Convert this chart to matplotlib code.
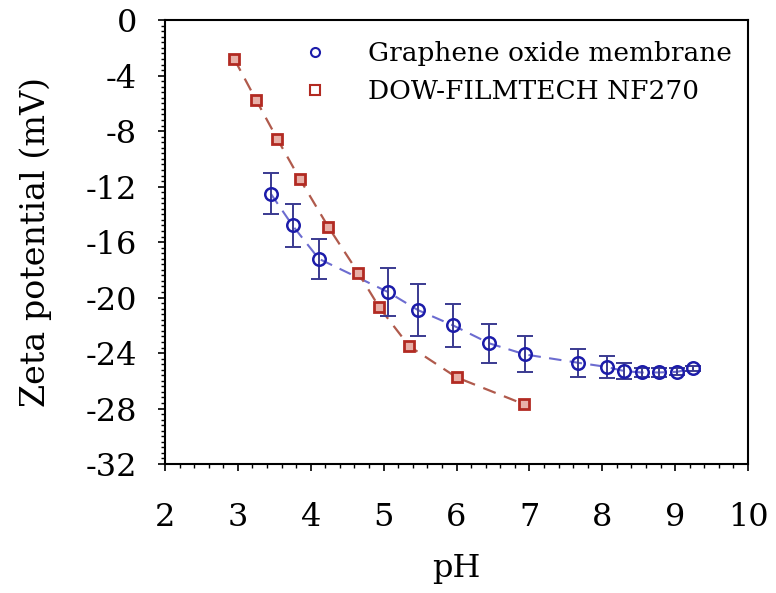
import matplotlib
matplotlib.use("Agg")
import matplotlib.pyplot as plt
from matplotlib.ticker import MultipleLocator
import numpy as np

plt.rcParams['font.family'] = ['DejaVu Serif']
plt.rcParams['axes.unicode_minus'] = False

# graphene oxide membrane
go_ph = [3.45, 3.75, 4.11, 5.06, 5.47, 5.95, 6.45, 6.94, 7.67, 8.06, 8.30, 8.54, 8.78, 9.03, 9.25]
go_zeta = [-12.5, -14.8, -17.2, -19.6, -20.9, -22.0, -23.3, -24.1, -24.7, -25.0, -25.3, -25.4, -25.4, -25.35, -25.1]
go_err = [1.5, 1.55, 1.45, 1.75, 1.9, 1.55, 1.4, 1.3, 1.0, 0.8, 0.55, 0.35, 0.3, 0.25, 0.2]

# DOW-FILMTECH NF270
nf_ph = [2.95, 3.25, 3.54, 3.85, 4.24, 4.65, 4.94, 5.35, 6.00, 6.93]
nf_zeta = [-2.8, -5.75, -8.55, -11.45, -14.9, -18.2, -20.7, -23.5, -25.75, -27.7]

fig = plt.figure(figsize=(7.76, 5.93), dpi=100)
ax = fig.add_axes([0.2126, 0.2175, 0.7514, 0.7485])

blue = '#1c1caa'
red = '#b22a22'

ax.plot(go_ph, go_zeta, '--', color='#6c6cd0', lw=1.5, dashes=(6, 4), zorder=1)
ax.errorbar(go_ph, go_zeta, yerr=go_err, fmt='none', ecolor='#3a3a90', elinewidth=1.4,
            capsize=6, capthick=1.4, zorder=2)
ax.plot(go_ph, go_zeta, 'o', mfc='none', mec=blue, mew=1.8, ms=9, zorder=3)

ax.plot(nf_ph, nf_zeta, '--', color='#b05a4c', lw=1.6, dashes=(6, 4), zorder=1)
ax.plot(nf_ph, nf_zeta, 's', mfc='#e8b0a8', mec=red, mew=2.0, ms=7, zorder=3)

# legend entries
ax.plot([], [], 'o', mfc='none', mec=blue, mew=1.5, ms=6.5, label='Graphene oxide membrane')
ax.plot([], [], 's', mfc='none', mec=red, mew=1.5, ms=6.5, label='DOW-FILMTECH NF270')
handles, labels = ax.get_legend_handles_labels()
ax.legend(handles[-2:], labels[-2:], loc='upper left', bbox_to_anchor=(0.235, 0.953),
          frameon=False, fontsize=19, handletextpad=1.5, labelspacing=0.5,
          handlelength=1.0, borderpad=0, borderaxespad=0)

ax.set_xlim(2, 10)
ax.set_ylim(-32, 0)
ax.xaxis.set_major_locator(MultipleLocator(1))
ax.xaxis.set_minor_locator(MultipleLocator(0.2))
ax.yaxis.set_major_locator(MultipleLocator(4))
ax.yaxis.set_minor_locator(MultipleLocator(0.4))
ax.tick_params(which='both', direction='out', top=False, right=False, labelsize=23)
ax.tick_params(which='major', length=5, width=1.2)
ax.tick_params(which='minor', length=3, width=1.0)
ax.tick_params(axis='x', pad=22)
ax.tick_params(axis='y', pad=15)
for s in ax.spines.values():
    s.set_linewidth(1.5)

ax.set_xlabel('pH', fontsize=23, labelpad=15)
ax.set_ylabel('Zeta potential (mV)', fontsize=24, labelpad=24)

fig.savefig('out.png', dpi=100)
